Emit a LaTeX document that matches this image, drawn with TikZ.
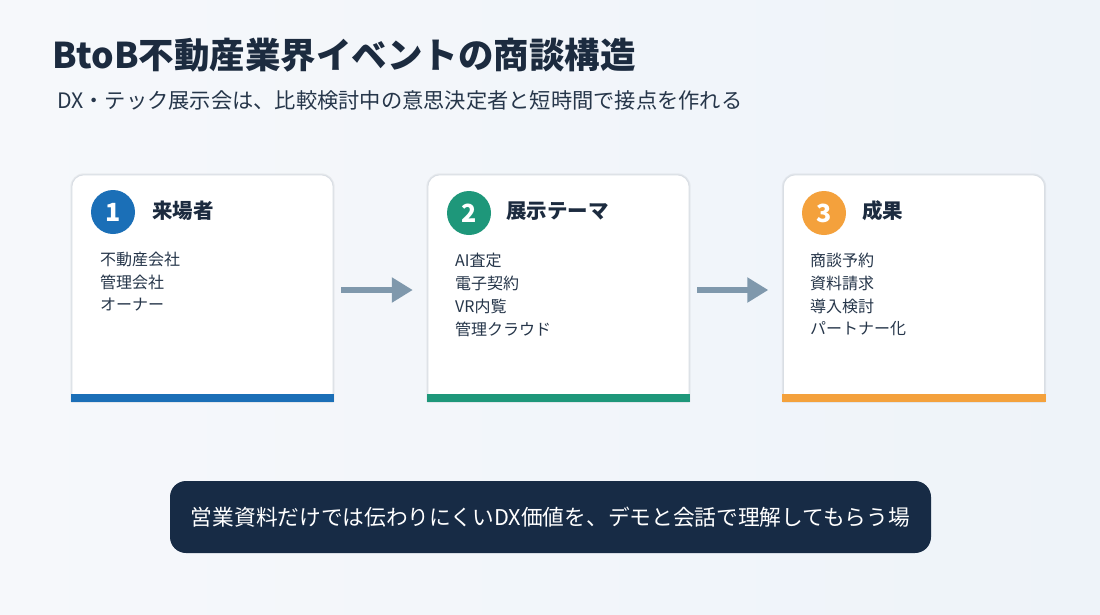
\documentclass[tikz,border=0pt]{standalone}
\usepackage{fontspec}
\setmainfont{Noto Sans CJK JP}
\usetikzlibrary{arrows.meta}
\definecolor{bgA}{HTML}{F6F8FB}
\definecolor{bgB}{HTML}{EEF3F9}
\definecolor{ink}{HTML}{1C2B3F}
\definecolor{subink}{HTML}{26364A}
\definecolor{cardline}{HTML}{D9DEE4}
\definecolor{cblue}{HTML}{1B6FB7}
\definecolor{cteal}{HTML}{1E977A}
\definecolor{corange}{HTML}{F4A13C}
\definecolor{arrowc}{HTML}{7F98AC}
\definecolor{navy}{HTML}{172B45}
\begin{document}
\begin{tikzpicture}[x=1pt,y=-1pt,
  cardbox/.style={minimum width=261pt,minimum height=227pt,inner sep=0pt,draw=none},
  numdot/.style={circle,minimum size=44pt,inner sep=0pt,text=white,font=\fontsize{25}{25}\selectfont\bfseries},
  cardtitle/.style={anchor=west,inner sep=0pt,text=ink,font=\fontsize{20.5}{20.5}\selectfont\bfseries},
  item/.style={anchor=west,inner sep=0pt,text=subink,font=\fontsize{16}{16}\selectfont},
  flow/.style={draw=arrowc,line width=5.5pt,-{Triangle[length=21pt,width=24pt]},shorten <=8pt,shorten >=15pt}]
\useasboundingbox (0,0) rectangle (1100,614);
\shade[left color=bgA,right color=bgB] (0,0) rectangle (1100,614);

% title
\node[anchor=west,inner sep=0pt,text=ink,font=\fontsize{35.5}{35.5}\selectfont\bfseries] (title) at (52,55) {BtoB不動産業界イベントの商談構造};
\node[anchor=west,inner sep=0pt,text=subink,font=\fontsize{21.25}{21.25}\selectfont] (sub) at (57,100) {DX・テック展示会は、比較検討中の意思決定者と短時間で接点を作れる};

% cards
\node[cardbox] (c1) at (202.5,288.5) {};
\node[cardbox] (c2) at (558.5,288.5) {};
\node[cardbox] (c3) at (914,288.5) {};

\foreach \c/\col in {c1/cblue,c2/cteal,c3/corange}{
  \fill[black,opacity=0.05] ([xshift=-1.5pt]\c.south west) -- ([xshift=-1.5pt,yshift=-12pt]\c.north west) arc[start angle=180,end angle=90,radius=13.5pt] -- ([xshift=-12pt,yshift=1.5pt]\c.north east) arc[start angle=90,end angle=0,radius=13.5pt] -- ([xshift=1.5pt]\c.south east) -- cycle;
  \draw[cardline,fill=white,line width=1pt] (\c.south west) -- ([yshift=-12pt]\c.north west) arc[start angle=180,end angle=90,radius=12pt] -- ([xshift=-12pt]\c.north east) arc[start angle=90,end angle=0,radius=12pt] -- (\c.south east) -- cycle;
  \fill[\col] ([xshift=-1pt,yshift=8pt]\c.south west) rectangle ([xshift=1pt]\c.south east);
}

% card 1
\node[numdot,fill=cblue] (n1) at (113,212) {1};
\node[cardtitle] (t1) at (152,211) {来場者};
\node[item] (i11) at (100,259) {不動産会社};
\node[item] (i12) at (100,282) {管理会社};
\node[item] (i13) at (100,305) {オーナー};

% card 2
\node[numdot,fill=cteal] (n2) at (469,213) {2};
\node[cardtitle] (t2) at (506,211) {展示テーマ};
\node[item] (i21) at (455,260) {AI査定};
\node[item] (i22) at (455,283) {電子契約};
\node[item] (i23) at (455,306) {VR内覧};
\node[item] (i24) at (455,329) {管理クラウド};

% card 3
\node[numdot,fill=corange] (n3) at (824,213) {3};
\node[cardtitle] (t3) at (862,211) {成果};
\node[item] (i31) at (810,260) {商談予約};
\node[item] (i32) at (810,283) {資料請求};
\node[item] (i33) at (810,306) {導入検討};
\node[item] (i34) at (810,329) {パートナー化};

% arrows
\draw[flow] ([yshift=-1.5pt]c1.east) -- ([yshift=-1.5pt]c2.west);
\draw[flow] ([yshift=-1.5pt]c2.east) -- ([yshift=-1.5pt]c3.west);

% banner
\node[fill=navy,rounded corners=16pt,minimum width=761pt,minimum height=72pt,inner sep=0pt,text=white,font=\fontsize{21.7}{21.7}\selectfont] (msg) at (550.5,517) {営業資料だけでは伝わりにくいDX価値を、デモと会話で理解してもらう場};
\end{tikzpicture}
\end{document}
